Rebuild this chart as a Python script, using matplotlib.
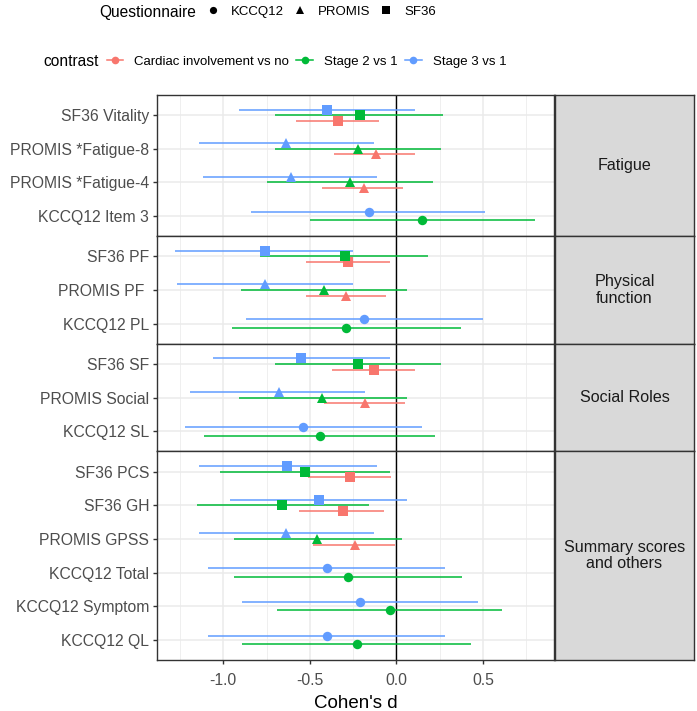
import numpy as np
import matplotlib
matplotlib.use("Agg")
import matplotlib.pyplot as plt
from matplotlib.lines import Line2D
from matplotlib.ticker import FixedLocator, FormatStrFormatter

plt.rcParams["font.family"] = ["Liberation Sans", "DejaVu Sans"]
plt.rcParams["axes.unicode_minus"] = False

# facets (top to bottom) and the measures inside them (top to bottom)
facets = ["Fatigue", "Physical function", "Social Roles", "Summary scores and others"]
strip_labels = ["Fatigue", "Physical\nfunction", "Social Roles", "Summary scores\nand others"]
measures = ["SF36 Vitality", "PROMIS *Fatigue-8", "PROMIS *Fatigue-4", "KCCQ12 Item 3",
            "SF36 PF", "PROMIS PF ", "KCCQ12 PL",
            "SF36 SF", "PROMIS Social", "KCCQ12 SL",
            "SF36 PCS", "SF36 GH", "PROMIS GPSS", "KCCQ12 Total", "KCCQ12 Symptom", "KCCQ12 QL"]
measure_facet = ["Fatigue"] * 4 + ["Physical function"] * 3 + ["Social Roles"] * 3 \
    + ["Summary scores and others"] * 6
questionnaire = ["SF36", "PROMIS", "PROMIS", "KCCQ12",
                 "SF36", "PROMIS", "KCCQ12",
                 "SF36", "PROMIS", "KCCQ12",
                 "SF36", "SF36", "PROMIS", "KCCQ12", "KCCQ12", "KCCQ12"]

contrasts = ["Cardiac involvement vs no", "Stage 2 vs 1", "Stage 3 vs 1"]

# Cohen's d with 95% CI, None where not estimated
cardiac_d = [-0.34, -0.12, -0.19, None, -0.28, -0.29, None, -0.13, -0.18, None,
             -0.27, -0.31, -0.24, None, None, None]
cardiac_lo = [-0.58, -0.36, -0.43, None, -0.52, -0.52, None, -0.37, -0.42, None,
              -0.51, -0.56, -0.48, None, None, None]
cardiac_hi = [-0.10, 0.11, 0.04, None, -0.04, -0.06, None, 0.11, 0.05, None,
              -0.03, -0.07, -0.01, None, None, None]

stage2_d = [-0.21, -0.22, -0.27, 0.15, -0.30, -0.42, -0.29, -0.22, -0.43, -0.44,
            -0.53, -0.66, -0.46, -0.28, -0.04, -0.23]
stage2_lo = [-0.70, -0.70, -0.75, -0.50, -0.79, -0.90, -0.95, -0.70, -0.91, -1.11,
             -1.02, -1.15, -0.94, -0.94, -0.69, -0.89]
stage2_hi = [0.27, 0.26, 0.21, 0.80, 0.18, 0.06, 0.37, 0.26, 0.06, 0.22,
             -0.04, -0.16, 0.03, 0.38, 0.61, 0.43]

stage3_d = [-0.40, -0.64, -0.61, -0.16, -0.76, -0.76, -0.19, -0.55, -0.68, -0.54,
            -0.63, -0.45, -0.64, -0.40, -0.21, -0.40]
stage3_lo = [-0.91, -1.14, -1.12, -0.84, -1.28, -1.27, -0.87, -1.06, -1.19, -1.22,
             -1.14, -0.96, -1.14, -1.09, -0.89, -1.09]
stage3_hi = [0.11, -0.13, -0.11, 0.51, -0.25, -0.25, 0.50, -0.04, -0.18, 0.15,
             -0.11, 0.06, -0.13, 0.28, 0.47, 0.28]

est = [cardiac_d, stage2_d, stage3_d]
lows = [cardiac_lo, stage2_lo, stage3_lo]
highs = [cardiac_hi, stage2_hi, stage3_hi]

colors = ["#F8766D", "#00BA38", "#619CFF"]
shapes = {"KCCQ12": "o", "PROMIS": "^", "SF36": "s"}
msizes = {"KCCQ12": 6.8, "PROMIS": 7.8, "SF36": 6.6}
dodge_width = 0.5
xlim = (-1.383, 0.91)

leg_size, leg_title_size = 9.5, 11.2

W, H = 697, 711
fig = plt.figure(figsize=(W / 100, H / 100), dpi=100)

# panel geometry in pixels
panel_left, panel_right = 157, 554
strip_left, strip_right = 555, 694
panel_top, panel_bottom = 95, 660
counts = [measure_facet.count(f) for f in facets]
units = [c + 0.2 for c in counts]
px_per_unit = (panel_bottom - panel_top) / sum(units)

grid_col = "#EBEBEB"
border_col = "#333333"
text_col = "#4D4D4D"

y_top = panel_top
for fi, facet in enumerate(facets):
    h = units[fi] * px_per_unit
    rect = [panel_left / W, 1 - (y_top + h) / H, (panel_right - panel_left) / W, h / H]
    ax = fig.add_axes(rect)
    idx = [i for i, f in enumerate(measure_facet) if f == facet]
    n = len(idx)
    ypos = {i: n - k for k, i in enumerate(idx)}

    ax.set_xlim(*xlim)
    ax.set_ylim(0.4, n + 0.6)
    ax.set_axisbelow(True)
    # grid
    for gx in [-1.25, -0.75, -0.25, 0.25, 0.75]:
        ax.axvline(gx, color=grid_col, lw=0.55, zorder=0)
    for gx in [-1.0, -0.5, 0.0, 0.5]:
        ax.axvline(gx, color=grid_col, lw=1.1, zorder=0)
    for i in idx:
        ax.axhline(ypos[i], color=grid_col, lw=1.1, zorder=0)
    ax.axvline(0, color="black", lw=1.0, zorder=1)

    for i in idx:
        present = [c for c in range(len(contrasts)) if est[c][i] is not None]
        m = len(present)
        for j, c in enumerate(present):
            off = (j - (m - 1) / 2) * dodge_width / m
            y = ypos[i] + off
            ax.plot([lows[c][i], highs[c][i]], [y, y], color=colors[c], lw=1.1,
                    solid_capstyle="butt", zorder=2)
            ax.plot(est[c][i], y, marker=shapes[questionnaire[i]], color=colors[c],
                    markersize=msizes[questionnaire[i]], markeredgewidth=0, zorder=3)

    ax.set_yticks([ypos[i] for i in idx])
    ax.set_yticklabels([measures[i] for i in idx])
    ax.xaxis.set_major_locator(FixedLocator([-1.0, -0.5, 0.0, 0.5]))
    ax.xaxis.set_major_formatter(FormatStrFormatter("%.1f"))
    ax.tick_params(axis="both", length=3.2, width=1.0, color=border_col,
                   labelcolor=text_col, labelsize=11.3, pad=2.5)
    if fi < len(facets) - 1:
        ax.tick_params(axis="x", bottom=False, labelbottom=False)
    else:
        ax.tick_params(axis="x", pad=6)
        ax.set_xlabel("Cohen's d", fontsize=13.5, color="black", labelpad=5)
    for sp in ax.spines.values():
        sp.set_color(border_col)
        sp.set_linewidth(1.0)

    # facet strip on the right
    sax = fig.add_axes([strip_left / W, 1 - (y_top + h) / H, (strip_right - strip_left) / W, h / H])
    sax.set_facecolor("#D9D9D9")
    sax.set_xticks([])
    sax.set_yticks([])
    for sp in sax.spines.values():
        sp.set_color(border_col)
        sp.set_linewidth(1.0)
    sax.text(0.5, 0.5, strip_labels[fi], ha="center", va="center", fontsize=11.6,
             color="#1A1A1A", linespacing=1.1, transform=sax.transAxes)

    y_top += h

# legends
px = leg_size * 1.389
q_handles = [Line2D([], [], ls="none", marker=shapes[q], color="black",
                    markersize=5.2 if q != "PROMIS" else 6.0, markeredgewidth=0)
             for q in ["KCCQ12", "PROMIS", "SF36"]]
fig.legend(q_handles, ["KCCQ12", "PROMIS", "SF36"], ncol=3, frameon=False,
           loc="center left", bbox_to_anchor=(207 / W, 1 - 12 / H),
           borderpad=0, borderaxespad=0, handlelength=12 / px,
           handletextpad=12 / px, columnspacing=10 / px, fontsize=leg_size)
fig.text(99 / W, 1 - 12 / H, "Questionnaire", fontsize=leg_title_size,
         ha="left", va="center")

c_handles = [Line2D([], [], color=colors[c], lw=1.1, marker="o", markersize=5.5,
                    markeredgewidth=0) for c in range(len(contrasts))]
fig.legend(c_handles, contrasts, ncol=3, frameon=False,
           loc="center left", bbox_to_anchor=(106.5 / W, 1 - 62 / H),
           borderpad=0, borderaxespad=0, handlelength=17 / px,
           handletextpad=11 / px, columnspacing=7 / px, fontsize=leg_size)
fig.text(43 / W, 1 - 62 / H, "contrast", fontsize=leg_title_size,
         ha="left", va="center")

fig.savefig("out.png", dpi=100)
